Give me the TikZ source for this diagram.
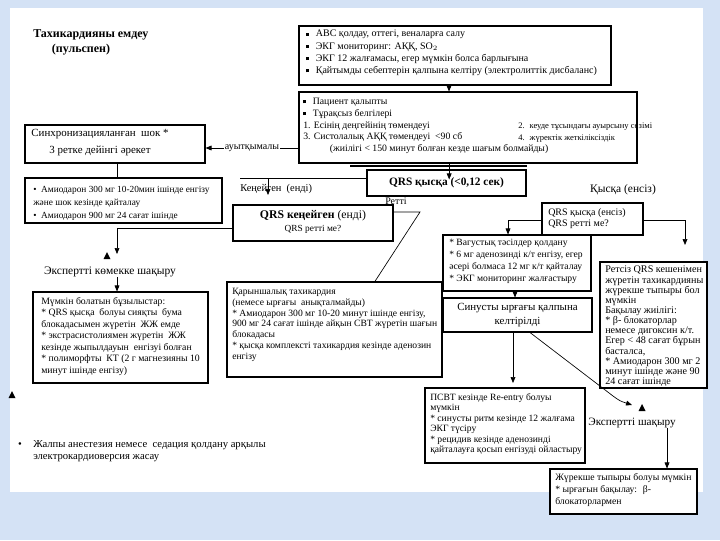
\documentclass[tikz,border=0pt]{standalone}
\usepackage{fontspec}
\setmainfont{Liberation Serif}
\usetikzlibrary{arrows.meta}
\definecolor{bgblue}{RGB}{212,226,245}
\newcommand\sqb{\raisebox{0.3ex}{\rule{2.2pt}{2.2pt}}\hspace{5pt}}
\newcommand\fz[2]{\fontsize{#1}{#2}\selectfont}
\newcommand\bx[5]{\node[box, minimum width={(#4-#2)*0.75pt}, minimum height={(#5-#3)*0.75pt}] (#1) at ({(#2+#4)/2},{(#3+#5)/2}) {};}
\begin{document}
\begin{tikzpicture}[x=0.75pt, y=-0.75pt,
  box/.style={draw, line width=0.8pt, fill=white, inner sep=0pt, rectangle},
  txt/.style={inner sep=0pt, align=left, anchor=north west},
  lbl/.style={inner sep=0pt, align=center},
  ln/.style={line width=0.5pt},
  arr/.style={line width=0.5pt, -{Triangle[width=3.6pt,length=4.5pt]}}]
\useasboundingbox (0,0) rectangle (720,540);
% page
\fill[bgblue] (0,0) rectangle (720,540);
\fill[white] (10,8) rectangle (703,492);

% title
\node[txt, font=\fz{9}{11.2}\bfseries] (title) at (33,29) {Тахикардияны емдеу\\\hspace*{14pt}(пульспен)};

% top box
\bx{top}{299}{26}{611}{85}
\node[txt, font=\fz{7.5}{9.2}] (topt) at (306,30) {\sqb АВС қолдау, оттегі, веналарға салу\\
\sqb ЭКГ мониторинг: АҚҚ, SO$_2$\\
\sqb ЭКГ 12 жалғамасы, егер мүмкін болса барлығына\\
\sqb Қайтымды себептерін қалпына келтіру (электролиттік дисбаланс)};

% second box
\bx{sec}{299}{92}{637}{163}
\node[txt, font=\fz{7.3}{8.8}] (secl) at (303,98) {\sqb Пациент қалыпты\\
\sqb Тұрақсыз белгілері\\
1. Есінің деңгейінің төмендеуі\\
3. Систолалық АҚҚ төмендеуі \ <90 сб\\
\hspace*{20pt}(жиілігі < 150 минут болған кезде шағым болмайды)};
\node[txt, font=\fz{6.4}{8.8}] (secr) at (518,122.5) {2. \ кеуде тұсындағы ауырсыну сезімі\\
4. \ жүректік жеткіліксіздік};
\draw[arr] ([xshift=-4.5pt]top.south) -- ([xshift=-4.5pt]top.south |- sec.north);

% stray line and QRS narrow
\draw[line width=0.8pt] (350,166) -- (527,166);
\bx{qrsn}{367}{170}{526}{196}
\node[lbl, font=\fz{8.5}{10}\bfseries] (qrsnt) at (446.5,183) {QRS қысқа (<0,12 сек)};
\draw[arr] ([xshift=2pt]qrsn.north |- sec.south) -- ([xshift=2pt,yshift=-7.5pt]qrsn.north);

% synchronised shock
\bx{sync}{25}{125}{205}{163}
\node[lbl, font=\fz{8.2}{12.7}] (synct) at (100,143) {Синхронизацияланған \ шок *\\3 ретке дейінгі әрекет};
\draw[arr] (sec.west |- 0,148) -- (sync.east |- 0,148) node[midway, fill=white, inner sep=1pt, font=\fz{7.5}{9}] (lab1) {ауытқымалы};

% amiodarone box
\bx{amio}{25}{178}{222}{223}
\node[txt, font=\fz{7}{9.6}] (amiot) at (33,186) {\textbullet\ \ Амиодарон 300 мг 10-20мин ішінде енгізу\\
және шок кезінде қайталау\\
\textbullet\ \ Амиодарон 900 мг 24 сағат ішінде};
\draw[ln] (117,0 |- sync.south) -- (117,0 |- amio.north);

% broad branch
\node[txt, anchor=west, font=\fz{7.8}{9}] (klab) at (240,189) {Кеңейген \ (енді)};
\draw[ln] (qrsn.west |- 0,178) -- (240,178);
\draw[arr] (268,178) -- (268,195);
\bx{qrsw}{233}{205}{393}{241}
\node[lbl, font=\fz{8.8}{10}] (qrswt) at (313,222) {\textbf{QRS кеңейген} (енді)\\{\fz{7}{8}QRS ретті ме?}};
\node[lbl, font=\fz{7.5}{9}] (rlab) at (396,201) {Ретті};
\draw[arr] (qrsw.east |- 0,212) -- (420,212) -- (370,289);
\draw[arr] (qrsw.west |- 0,228) -- (117,228) -- (117,254);
\fill (103.5,259) -- (110.5,259) -- (107,252) -- cycle;

% expert 1
\node[lbl, font=\fz{8.6}{10}] (exp1) at (110,272) {Экспертті көмекке шақыру};
\bx{poss}{33}{292}{208}{383}
\draw[arr] (exp1.south -| 117,0) -- (117,0 |- poss.north);
\node[txt, font=\fz{7.3}{8.6}] (posst) at (41,297) {Мүмкін болатын бұзылыстар:\\
* QRS қысқа \ болуы сияқты \ бума\\
блокадасымен жүретін \ ЖЖ емде\\
* экстрасистолиямен жүретін \ ЖЖ\\
кезінде жыпылдауын \ енгізуі болған\\
* полиморфты \ КТ (2 г магнезияны 10\\
минут ішінде енгізу)};

% ventricular tachycardia box
\bx{vt}{227}{282}{442}{377}
\node[txt, font=\fz{7.2}{8.1}] (vtt) at (232,288) {Қарыншалық тахикардия\\
(немесе ырғағы \ анықталмайды)\\
* Амиодарон 300 мг 10-20 минут ішінде енгізу,\\
900 мг 24 сағат ішінде айқын СВТ жүретін шағын\\
блокадасы\\
* қысқа комплексті тахикардия кезінде аденозин\\
енгізу};

% narrow QRS branch
\node[lbl, font=\fz{8.6}{10}] (nlab) at (623,190) {Қысқа (енсіз)};
\bx{qrsn2}{542}{203}{643}{235}
\node[txt, font=\fz{7.5}{8.3}] (qrsn2t) at (548,208) {QRS қысқа (енсіз)\\QRS ретті ме?};
\bx{vag}{443}{235}{591}{291}
\node[txt, font=\fz{7.2}{9}] (vagt) at (449,239) {* Вагустық тәсілдер қолдану\\
* 6 мг аденозинді к/т енгізу, егер\\
әсері болмаса 12 мг к/т қайталау\\
* ЭКГ мониторинг жалғастыру};
\draw[arr] (qrsn2.west |- 0,220) -- (508,220) -- (508,0 |- vag.north);
\draw[arr] (qrsn2.east |- 0,220) -- (685,220) -- (685,245);

% irregular box
\bx{irr}{600}{262}{707}{388}
\begin{scope}
\clip (600,262) rectangle (702,388);
\node[txt, font=\fz{7.6}{7.6}] (irrt) at (605,266) {Ретсіз QRS кешенімен\\
жүретін тахикардияны\\
жүрекше тыпыры бол\\
мүмкін\\
Бақылау жиілігі:\\
* β- блокаторлар\\
немесе дигоксин к/т.\\
Егер < 48 сағат бұрын\\
басталса,\\
* Амиодарон 300 мг 2\\
минут ішінде және 90\\
24 сағат ішінде};
\end{scope}

% sinus restored
\bx{sin}{443}{298}{592}{332}
\node[lbl, font=\fz{8.2}{11}] (sint) at (517.5,315) {Синусты ырғағы қалпына\\келтірілді};
\draw[arr] (vag.south -| 515,0) -- (515,0 |- sin.north);
\draw[arr] (sin.south -| 513,0) -- (513,383);

% PSVT box
\bx{psvt}{425}{388}{585}{463}
\node[txt, font=\fz{7.2}{7.9}] (psvtt) at (430,393) {ПСВТ кезінде Re-entry болуы\\
мүмкін\\
* синусты ритм кезінде 12 жалғама\\
ЭКГ түсіру\\
* рецидив кезінде аденозинді\\
қайталауға қосып енгізуді ойластыру};

% curve to expert 2
\draw[arr] (530,0 |- sin.south) -- (613,396) .. controls (620,401) .. (632,405);
\fill (638.5,411) -- (645.5,411) -- (642,404) -- cycle;
\node[lbl, font=\fz{8.4}{10}] (exp2) at (632,423) {Экспертті шақыру};
\bx{af}{550}{469}{697}{514}
\draw[arr] (exp2.south -| 667,0) -- (667,0 |- af.north);
\node[txt, font=\fz{7.3}{9}] (aft) at (555,473) {Жүрекше тыпыры болуы мүмкін\\
* ырғағын бақылау: \ β-\\
блокаторлармен};

% left triangle and bottom note
\fill (8.5,398) -- (15.5,398) -- (12,391) -- cycle;
\node[lbl, font=\fz{8}{9}] (genb) at (20,445) {\textbullet};
\node[txt, font=\fz{8}{9}] (gen) at (33,440) {Жалпы анестезия немесе \ седация қолдану арқылы\\
электрокардиоверсия жасау};
\end{tikzpicture}
\end{document}
